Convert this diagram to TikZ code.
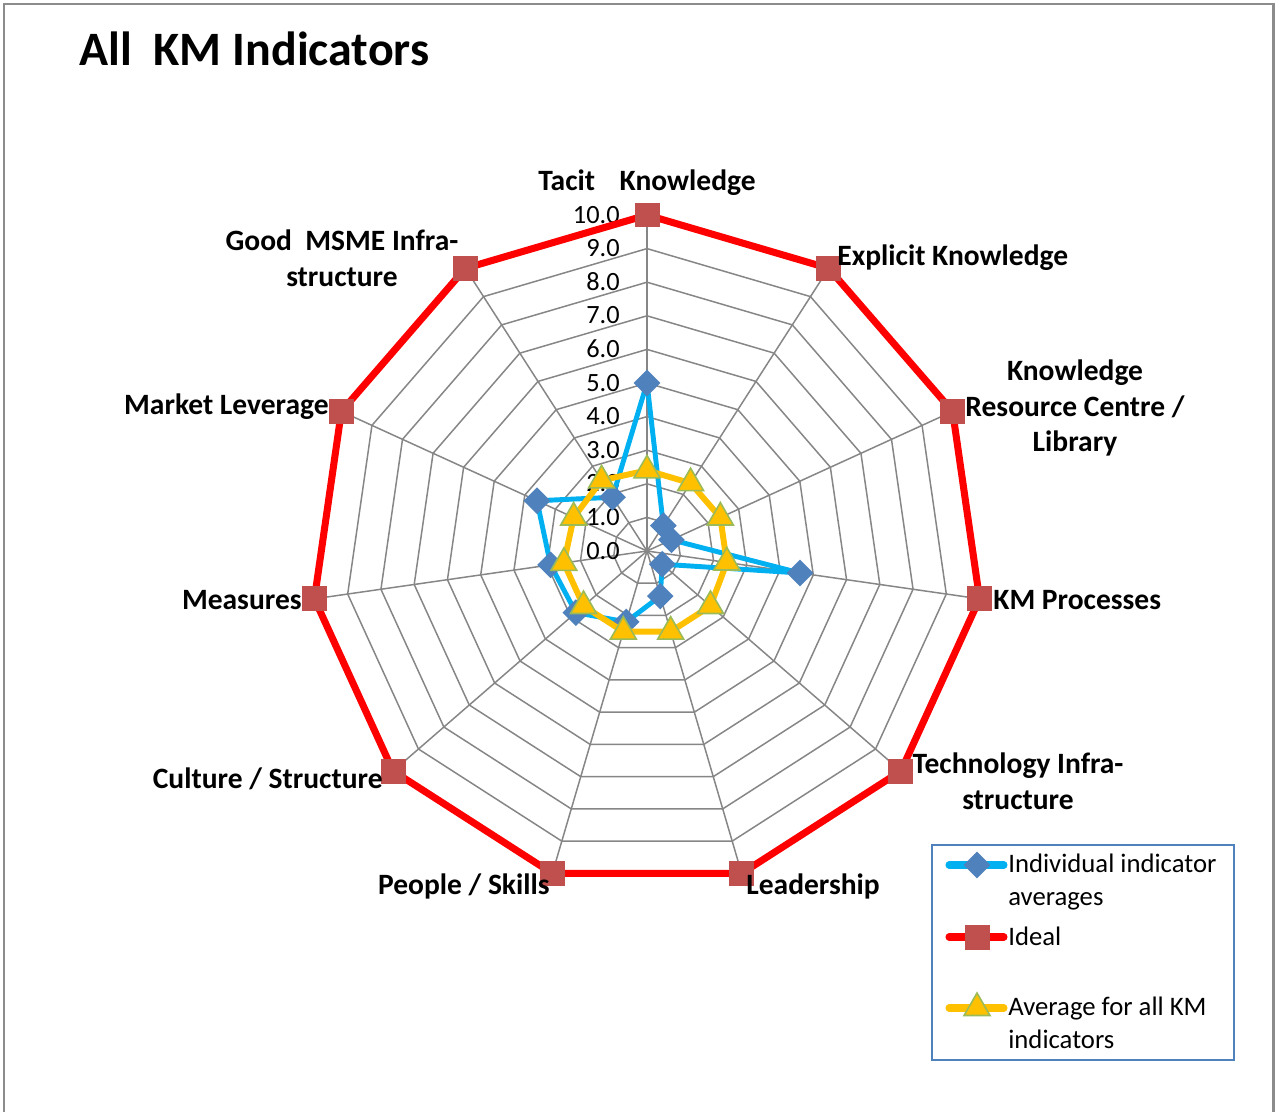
\documentclass[tikz,border=0pt]{standalone}
\usepackage{fontspec}
\setmainfont{Carlito}
\usepackage{tikz}
\usetikzlibrary{shapes.geometric}
\usepackage{xcolor}
\definecolor{gridgray}{HTML}{868686}
\definecolor{framegray}{HTML}{8C8C8C}
\definecolor{idealred}{HTML}{FF0000}
\definecolor{idealsq}{HTML}{C0504D}
\definecolor{indblue}{HTML}{00B0F0}
\definecolor{indmk}{HTML}{4F81BD}
\definecolor{avgyellow}{HTML}{FFC000}
\definecolor{avggreen}{HTML}{9BBB59}

\begin{document}
\begin{tikzpicture}[x=0.02cm, y=-0.02cm,
		axislabel/.style={font=\fontsize{16.8}{20.4}\selectfont\bfseries, inner sep=0pt, align=center},
		ticklabel/.style={font=\fontsize{15}{17}\selectfont, anchor=mid east, inner sep=0pt},
		legtext/.style={font=\fontsize{15.2}{18.7}\selectfont, inner sep=0pt, align=left},
		gridline/.style={gridgray, line width=0.85pt},
		idealline/.style={idealred, line width=4pt, line join=round},
		indline/.style={indblue, line width=2.8pt, line join=round},
		avgline/.style={avgyellow, line width=3.4pt, line join=round},
		idealmark/.style={rectangle, fill=idealsq, minimum size=0.5cm, inner sep=0pt},
		indmark/.style={diamond, fill=indmk, minimum size=0.54cm, inner sep=0pt},
		avgmark/.style={regular polygon, regular polygon sides=3, fill=avgyellow, draw=avggreen, line width=0.9pt, minimum size=0.6cm, inner sep=0pt}]
	\useasboundingbox (0,0) rectangle (1275,1112);
	\draw[framegray, line width=1.7pt] (4,1112)--(4,4)--(1273,4)--(1273,1112);

	\node[font=\fontsize{27.3}{30}\selectfont\bfseries, anchor=mid west, inner sep=0pt] (title) at (79,61) {All\ \ KM Indicators};

	% web
	\coordinate (ctr) at (647,551);
	\foreach \r in {1,...,10}{
		\draw[gridline] ({647},{551-\r*33.6}) \foreach \k in {1,...,10}{ -- ({647+\r*33.6*sin(\k*360/11)},{551-\r*33.6*cos(\k*360/11)}) } -- cycle;
	}
	\foreach \k in {0,...,10}{
		\coordinate (ideal\k) at ({647+336*sin(\k*360/11)},{551-336*cos(\k*360/11)});
		\draw[gridline] (ctr) -- (ideal\k);
	}
	\foreach \r in {0,...,10}{
		\node[ticklabel] (tick\r) at (620,{555-\r*33.6}) {\r.0};
	}

	% data
	\foreach \v [count=\k from 0] in {5.0,0.9,0.8,4.6,0.6,1.4,2.2,2.8,2.9,3.6,1.9}{
		\coordinate (ind\k) at ({647+\v*33.6*sin(\k*360/11)},{551-\v*33.6*cos(\k*360/11)});
	}
	\foreach \v [count=\k from 0] in {2.4,2.4,2.4,2.4,2.5,2.5,2.5,2.5,2.5,2.4,2.5}{
		\coordinate (avg\k) at ({647+\v*33.6*sin(\k*360/11)},{551-\v*33.6*cos(\k*360/11)});
	}
	\draw[indline] (ind0) \foreach \k in {1,...,10}{ -- (ind\k) } -- cycle;
	\foreach \k in {0,...,10} \node[indmark] (indm\k) at (ind\k) {};
	\draw[idealline] (ideal0) \foreach \k in {1,...,10}{ -- (ideal\k) } -- cycle;
	\foreach \k in {0,...,10} \node[idealmark] (idealm\k) at (ideal\k) {};
	\draw[avgline] (avg0) \foreach \k in {1,...,10}{ -- (avg\k) } -- cycle;
	\foreach \k in {0,...,10} \node[avgmark] (avgm\k) at (avg\k) {};

	% axis names
	\node[axislabel, anchor=mid] (tacit) at (647,186) {Tacit\hspace{14pt}Knowledge};
	\node[axislabel, anchor=mid west] (explicit) at (837,261) {Explicit Knowledge};
	\node[axislabel] (library) at (1075,408) {Knowledge\\Resource Centre /\\Library};
	\node[axislabel, anchor=mid west] (process) at (993,605) {KM Processes};
	\node[axislabel] (techno) at (1018,781) {Technology Infra-\\structure};
	\node[axislabel, anchor=mid west] (leader) at (746,890) {Leadership};
	\node[axislabel, anchor=mid east] (people) at (550,890) {People / Skills};
	\node[axislabel, anchor=mid east] (culture) at (383,784) {Culture / Structure};
	\node[axislabel, anchor=mid east] (measure) at (302,605) {Measures};
	\node[axislabel, anchor=mid east] (market) at (329,410) {Market Leverage};
	\node[axislabel] (msme) at (342,258) {Good\ \ MSME Infra-\\structure};

	% legend
	\draw[indmk, line width=0.9pt] (932,845) rectangle (1234,1060);
	\coordinate (lgia) at (949,865); \coordinate (lgib) at (1004,865);
	\coordinate (lgra) at (949,937); \coordinate (lgrb) at (1004,937);
	\coordinate (lgaa) at (949,1008); \coordinate (lgab) at (1004,1008);
	\draw[indblue, line width=4pt, line cap=round] (lgia) -- (lgib);
	\node[indmark] (lgim) at (977,865) {};
	\draw[idealred, line width=4pt, line cap=round] (lgra) -- (lgrb);
	\node[idealmark] (lgrm) at (977,937) {};
	\draw[avgyellow, line width=4pt, line cap=round] (lgaa) -- (lgab);
	\node[avgmark] (lgam) at (977,1008) {};
	\node[legtext, anchor=north west] (lgit) at (1008,854) {Individual indicator\\averages};
	\node[legtext, anchor=mid west] (lgrt) at (1008,941) {Ideal};
	\node[legtext, anchor=north west] (lgat) at (1008,997) {Average for all KM\\indicators};
\end{tikzpicture}
\end{document}
